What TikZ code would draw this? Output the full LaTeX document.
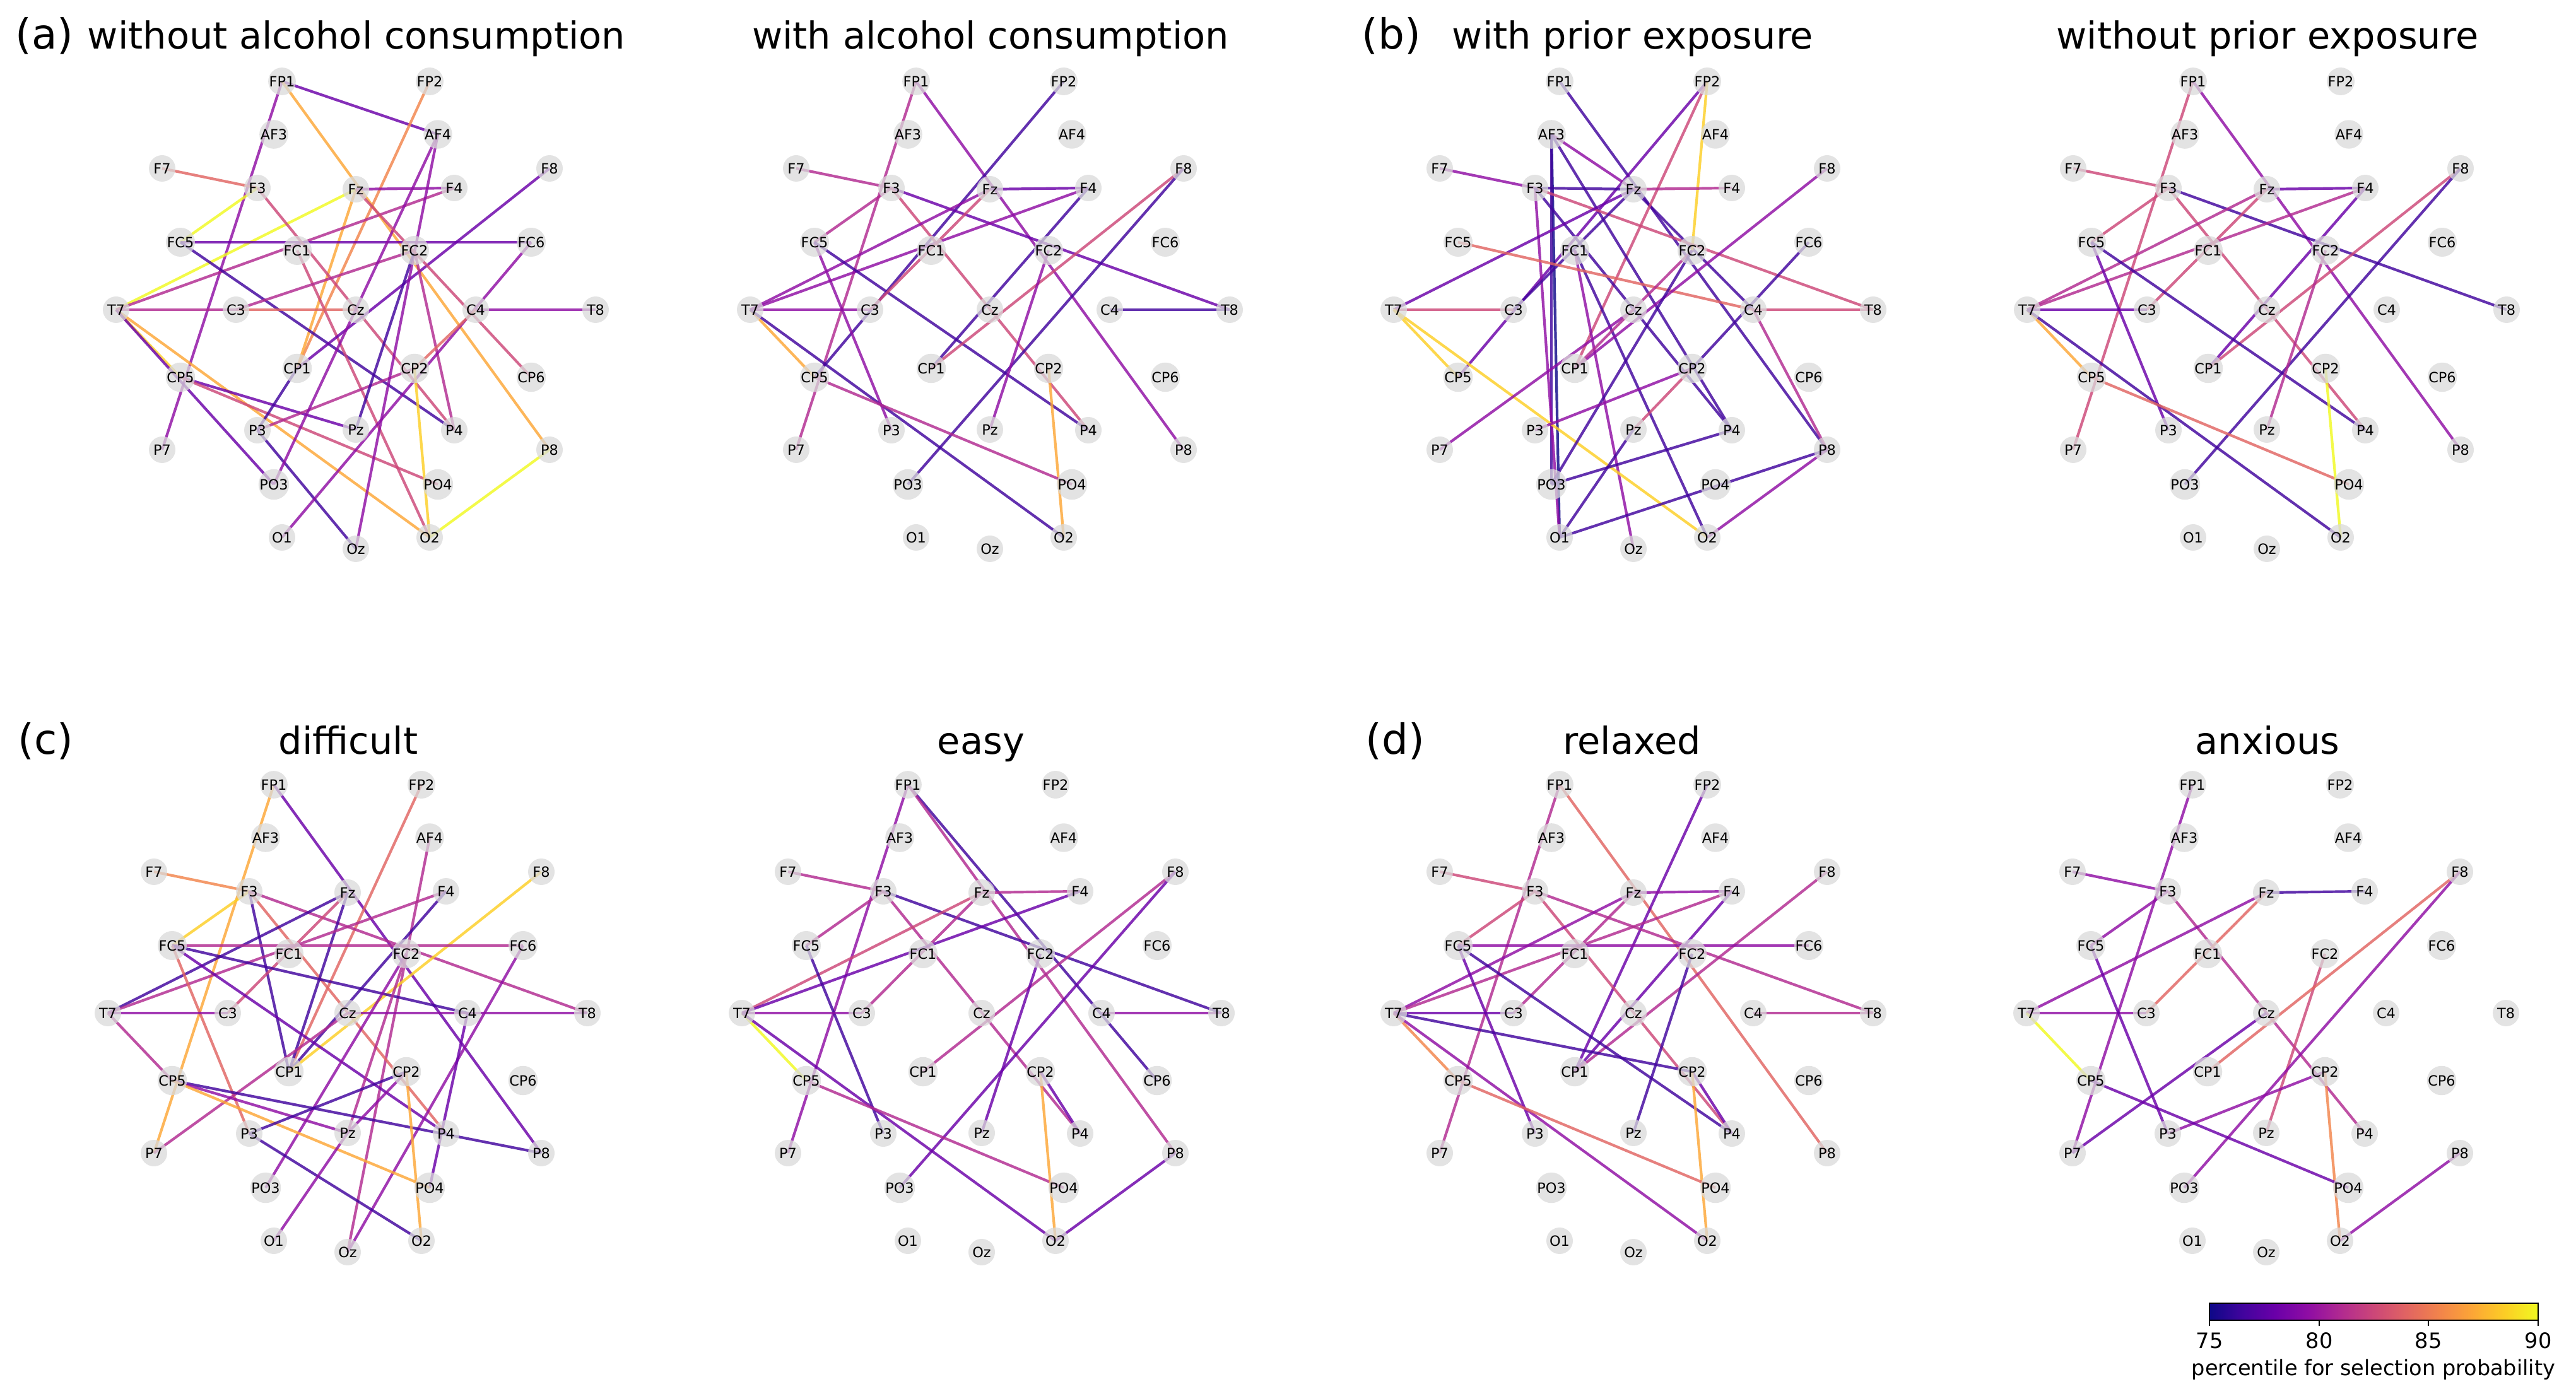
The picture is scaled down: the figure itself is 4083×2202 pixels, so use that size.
\documentclass[tikz,border=0pt]{standalone}
\usepackage{fontspec}
\setmainfont{DejaVu Sans}
\definecolor{pl0}{HTML}{0D0887}
\definecolor{pl1}{HTML}{41049D}
\definecolor{pl2}{HTML}{6A00A8}
\definecolor{pl3}{HTML}{8F0DA4}
\definecolor{pl4}{HTML}{B12A90}
\definecolor{pl5}{HTML}{CC4778}
\definecolor{pl6}{HTML}{E16462}
\definecolor{pl7}{HTML}{F2844B}
\definecolor{pl8}{HTML}{FCA636}
\definecolor{pl9}{HTML}{FCCE25}
\definecolor{pl10}{HTML}{F0F921}
\pgfdeclarehorizontalshading{plasma}{100bp}{color(0bp)=(pl0); color(25bp)=(pl0); color(30bp)=(pl1); color(35bp)=(pl2); color(40bp)=(pl3); color(45bp)=(pl4); color(50bp)=(pl5); color(55bp)=(pl6); color(60bp)=(pl7); color(65bp)=(pl8); color(70bp)=(pl9); color(75bp)=(pl10); color(100bp)=(pl10)}
\pgfdeclarelayer{edgelayer}
\pgfsetlayers{edgelayer,main}
\tikzset{
 elec/.style={circle, fill=black!15, fill opacity=0.75, text opacity=1, minimum size=10.5pt, inner sep=0pt, font=\fontsize{5.6}{6}\selectfont},
 edge/.style={line width=1.05pt, draw opacity=0.82},
 ptitle/.style={font=\fontsize{14.75}{16}\selectfont, inner sep=0pt, anchor=base},
 plabel/.style={font=\fontsize{16.5}{18}\selectfont, inner sep=0pt, anchor=base west},
 cbtext/.style={font=\fontsize{8.4}{9}\selectfont, inner sep=0pt, anchor=base}
}
\def\elist{FP1/-117/-362, FP2/117/-362, AF3/-130/-278, AF4/130/-278, F7/-307/-224, F3/-156/-193, Fz/0/-191, F4/156/-193, F8/307/-224, FC5/-278/-107, FC1/-93/-94, FC2/93/-94, FC6/278/-107, T7/-380/0, C3/-190/0, Cz/0/0, C4/190/0, T8/380/0, CP5/-278/107, CP1/-93/93, CP2/93/93, CP6/278/107, P7/-307/222, P3/-156/191, Pz/0/190, P4/156/191, P8/307/222, PO3/-130/277, PO4/130/277, O1/-117/361, Oz/0/379, O2/117/361}
\newcommand\electrodes[3]{%
 \begin{scope}[shift={(#2,#3)}]
 \foreach \n/\dx/\dy in \elist {\node[elec] (#1\n) at (\dx,\dy) {\n};}
 \end{scope}}
\newcommand\linkedges[2]{%
 \begin{pgfonlayer}{edgelayer}
 \foreach \a/\b/\c in {#2} {\draw[edge, draw=pl\c] (#1\a.center) -- (#1\b.center);}
 \end{pgfonlayer}}
\begin{document}
\begin{tikzpicture}[x=0.25pt, y=-0.25pt]
\useasboundingbox (0,0) rectangle (4083,2202);
% titles
\node[plabel] (la) at (24,78) {(a)};
\node[ptitle] (ta) at (565,78) {without alcohol consumption};
\node[ptitle] (tb) at (1570,78) {with alcohol consumption};
\node[plabel] (lb) at (2158,78) {(b)};
\node[ptitle] (tc) at (2588,78) {with prior exposure};
\node[ptitle] (td) at (3594,78) {without prior exposure};
\node[plabel] (lc) at (28,1195) {(c)};
\node[ptitle] (te) at (552,1195) {difficult};
\node[ptitle] (tf) at (1555,1195) {easy};
\node[plabel] (ld) at (2164,1195) {(d)};
\node[ptitle] (tg) at (2587,1195) {relaxed};
\node[ptitle] (th) at (3594,1195) {anxious};
% electrodes
\electrodes{a}{564}{491}
\electrodes{b}{1569}{491}
\electrodes{c}{2589}{491}
\electrodes{d}{3593}{491}
\electrodes{e}{551}{1606}
\electrodes{f}{1556}{1606}
\electrodes{g}{2589}{1606}
\electrodes{h}{3592}{1606}
% edges
\linkedges{a}{T7/CP5/9, FP1/AF4/2, FP1/P7/3, FP1/P8/8, FP2/CP1/7, Fz/CP1/8, F7/F3/6, F3/FC5/10, Fz/T7/10, Fz/F4/3, F4/T7/4, FC5/FC6/2, FC5/P4/1, F3/P4/5, FC1/O2/5, T7/C3/4, C3/Cz/6, C3/FC2/4, T7/O2/8, T7/PO3/2, CP5/Pz/2, CP5/PO4/5, P3/CP2/4, P3/Oz/1, CP1/P3/1, F8/CP1/2, AF4/PO3/3, AF4/Oz/3, FC2/Pz/1, FC2/P4/4, Fz/CP6/5, FC6/O1/3, C4/T8/3, C4/CP2/6, CP2/O2/9, P8/O2/10}
\linkedges{b}{FP1/P7/4, FP1/P8/3, FP2/CP5/1, F7/F3/4, F3/FC5/4, F3/T8/2, F3/P4/5, Fz/F4/2, Fz/T7/3, F4/T7/3, T7/C3/3, T7/CP5/8, T7/O2/1, FC5/P3/3, FC5/P4/1, Fz/C3/5, F4/CP1/1, F8/CP1/5, F8/PO3/1, FC2/Pz/3, C4/T8/1, CP2/O2/8, CP5/PO4/4}
\linkedges{c}{FP1/P8/1, Fz/C4/1, FP2/CP5/2, FP2/CP1/5, FP2/FC2/9, AF3/O1/0, AF3/PO3/1, AF3/Fz/3, AF3/P4/1, F7/F3/3, F3/Fz/1, F3/T8/5, F3/O1/3, F3/P4/1, Fz/F4/4, Fz/T7/2, Fz/C3/1, FC1/O2/1, FC1/Oz/3, FC5/C4/6, T7/C3/5, T7/CP5/9, T7/O2/9, F8/CP1/3, P7/Cz/3, CP1/FC2/4, FC2/PO3/1, FC6/CP2/1, C4/T8/5, C4/P8/4, CP2/P3/3, CP2/Pz/5, Pz/O1/1, P4/PO3/1, O1/P8/1, P8/O2/3}
\linkedges{d}{FP1/P7/5, FP1/P8/3, F7/F3/5, F3/FC5/5, F3/T8/1, F3/P4/5, Fz/F4/2, Fz/T7/4, F4/T7/4, Fz/C3/5, F4/CP1/2, F8/CP1/5, F8/PO3/1, FC5/P3/2, FC5/P4/1, T7/C3/2, T7/CP5/8, T7/O2/1, FC2/Pz/4, CP5/PO4/6, CP2/O2/10}
\linkedges{e}{FP1/P7/8, FP1/P8/2, FP2/CP1/6, AF4/Oz/4, F7/F3/7, F3/FC5/9, F3/CP1/1, F3/P4/6, F3/T8/4, Fz/T7/1, Fz/C3/5, Fz/CP1/1, F4/T7/4, F4/CP1/1, F8/CP1/9, FC5/FC6/4, FC5/C4/1, FC5/P4/2, FC5/P3/6, FC2/PO3/3, FC2/Pz/4, FC6/Oz/3, T7/C3/3, T7/CP5/4, Cz/T8/3, C4/PO4/2, Cz/P7/4, CP5/P8/1, CP5/Pz/3, CP5/PO4/8, CP2/P3/1, CP2/Pz/3, CP2/O2/8, P3/O2/1, Pz/O1/3}
\linkedges{f}{FP1/P7/3, FP1/CP6/1, FP1/P8/4, F7/F3/4, F3/FC5/4, F3/T8/1, F3/P4/4, Fz/F4/4, Fz/T7/5, Fz/C3/4, F4/T7/2, F8/CP1/4, F8/PO3/2, FC5/P3/1, FC2/Pz/2, T7/C3/3, T7/CP5/10, T7/O2/2, C4/T8/3, CP5/PO4/4, CP2/O2/8, CP2/P4/2, P8/O2/2}
\linkedges{g}{FP1/P7/4, FP1/P8/6, FP2/CP1/2, F7/F3/5, F3/FC5/5, F3/T8/4, F3/P4/5, Fz/F4/3, Fz/T7/3, F4/T7/4, Fz/C3/4, F4/CP1/2, F8/CP1/4, FC5/FC6/3, FC5/P3/2, FC5/P4/1, T7/C3/2, T7/CP2/1, T7/CP5/7, T7/O2/3, FC2/Pz/1, C4/T8/4, CP2/P4/2, CP2/O2/8, CP5/PO4/6}
\linkedges{h}{FP1/P7/3, F7/F3/3, F3/FC5/3, F3/P4/4, Fz/F4/1, Fz/T7/3, Fz/C3/6, T7/C3/3, T7/CP5/10, FC5/P3/2, FC2/Pz/5, F8/CP1/6, F8/PO3/3, Cz/P7/2, CP2/P3/3, CP2/O2/7, CP5/PO4/2, P8/O2/3}
% colorbar
\shade[shading=plasma] (3502,2066) rectangle (4023,2093);
\draw[line width=0.6pt] (3502,2066) rectangle (4023,2093);
\foreach \x/\t in {3502/75, 3676/80, 3849/85, 4023/90} {
 \draw[line width=0.6pt] (\x,2093) -- (\x,2102);
 \node[cbtext] (cb\t) at (\x,2137) {\t};
}
\node[cbtext] (cblabel) at (3762,2180) {percentile for selection probability};
\end{tikzpicture}
\end{document}
